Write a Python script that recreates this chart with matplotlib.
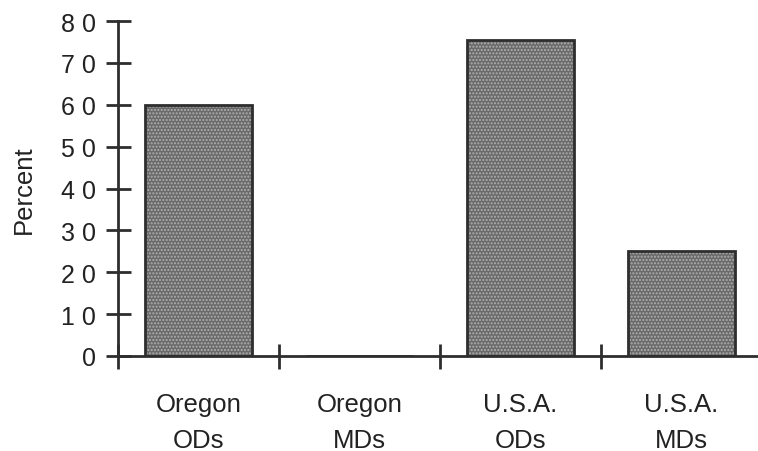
import matplotlib
matplotlib.use("agg")
import matplotlib.pyplot as plt
import numpy as np

categories = ["Oregon\nODs", "Oregon\nMDs", "U.S.A.\nODs", "U.S.A.\nMDs"]
percent = [60, 0, 75.5, 25]
yticks = [0, 10, 20, 30, 40, 50, 60, 70, 80]
ytick_labels = ["0", "1 0", "2 0", "3 0", "4 0", "5 0", "6 0", "7 0", "8 0"]

plt.rcParams['font.family'] = ['Liberation Sans', 'DejaVu Sans']
ink = '#2e2e2e'

fig = plt.figure(figsize=(7.58, 4.52), dpi=100)
ax = fig.add_axes([0.1557, 0.2102, 0.8496, 0.7411])

x = np.arange(len(categories))
# dotted texture, then outline on top
ax.bar(x, percent, width=0.67, color='#6a6a6a', edgecolor='#b0b0b0',
       hatch='.....', linewidth=0, zorder=2)
ax.bar(x, percent, width=0.67, fill=False, edgecolor=ink, linewidth=2, zorder=3)

ax.set_xlim(-0.5, 3.5)
ax.set_ylim(0, 80)
ax.set_yticks(yticks)
ax.set_yticklabels(ytick_labels, fontsize=18, color='#222222')
ax.set_xticks(x)
ax.set_xticklabels(categories, fontsize=18.5, color='#222222', linespacing=1.6)
ax.set_xticks([-0.5, 0.5, 1.5, 2.5], minor=True)
ax.tick_params(axis='x', which='major', length=0, pad=26)
ax.tick_params(axis='x', which='minor', direction='inout', length=18, width=2, color=ink)
ax.tick_params(axis='y', direction='inout', length=18, width=2, color=ink, pad=7)

for s in ['top', 'right']:
    ax.spines[s].set_visible(False)
for s in ['left', 'bottom']:
    ax.spines[s].set_linewidth(2)
    ax.spines[s].set_color(ink)

ax.set_ylabel("Percent", fontsize=18.5, color='#222222', labelpad=18)

plt.savefig("out.png", dpi=100)
